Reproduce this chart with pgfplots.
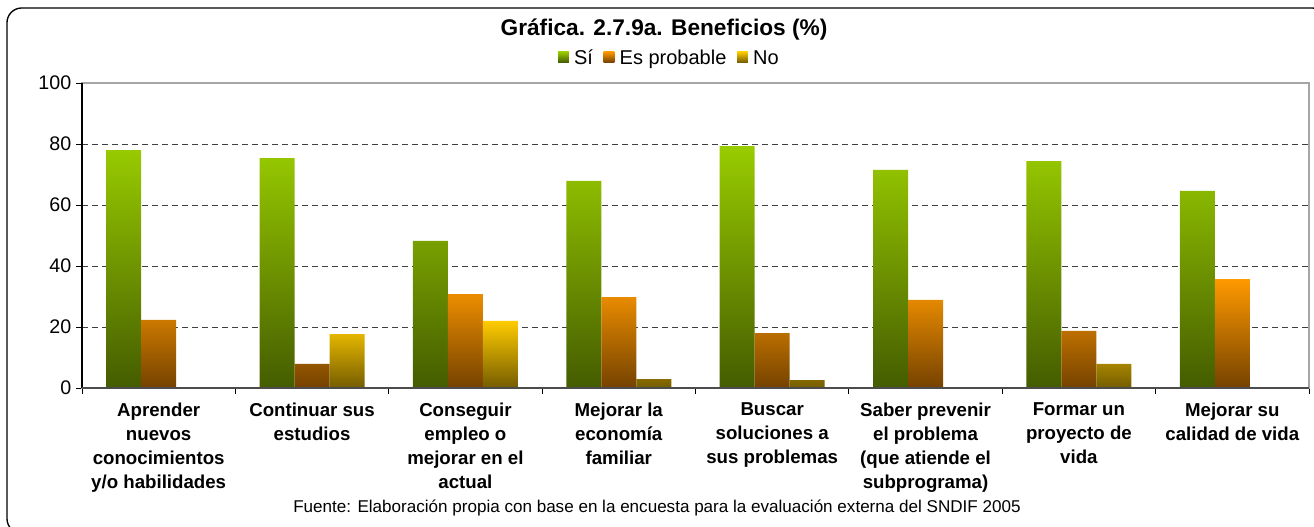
\documentclass[border=0pt]{standalone}
\usepackage{fontspec}
\setmainfont{Liberation Sans}
\usepackage{pgfplots}
\pgfplotsset{compat=1.18}
\definecolor{gT}{HTML}{99CC00}
\definecolor{gM}{HTML}{80AA00}
\definecolor{gB}{HTML}{445C00}
\definecolor{oT}{HTML}{FF9900}
\definecolor{oM}{HTML}{DD8200}
\definecolor{oB}{HTML}{744200}
\definecolor{yT}{HTML}{FFCC00}
\definecolor{yM}{HTML}{D2A800}
\definecolor{yB}{HTML}{745C00}
\begin{document}
\begin{tikzpicture}
\useasboundingbox (0,0) rectangle (985.5pt,-395.25pt);
\draw[line width=1pt, rounded corners=11pt] (5.25pt,-6pt) rectangle (995pt,-400pt);
\node[font=\bfseries\fontsize{17}{20}\selectfont] at (498pt,-22.5pt) {Gráfica. 2.7.9a. Beneficios (\%)};
\node[font=\fontsize{12.8}{15}\selectfont] at (492.75pt,-381pt) {Fuente: Elaboración propia con base en la encuesta para la evaluación externa del SNDIF 2005};
\begin{axis}[
  at={(61.5pt,-291pt)}, anchor=south west,
  scale only axis, width=920.25pt, height=228.75pt,
  ymin=0, ymax=100, ytick={0,20,...,100},
  xmin=-0.5, xmax=7.5,
  xtick={-0.5,0.5,...,7.5},
  xticklabels={{Aprender\\nuevos\\conocimientos\\y/o habilidades},
    {Continuar sus\\estudios},
    {Conseguir\\empleo o\\mejorar en el\\actual},
    {Mejorar la\\economía\\familiar},
    {Buscar\\soluciones a\\sus problemas},
    {Saber prevenir\\el problema\\(que atiende el\\subprograma)},
    {Formar un\\proyecto de\\vida},
    {Mejorar su\\calidad de vida},{}},
  xticklabel style={font=\bfseries\fontsize{14}{18}\selectfont, align=center, xshift=57.5pt, anchor=north, yshift=-3pt},
  yticklabel style={font=\fontsize{14.75}{16}\selectfont},
  /pgf/number format/assume math mode=true,
  tick pos=left, tick align=outside, major tick length=4.5pt,
  tick style={black, line width=0.6pt},
  ymajorgrids, grid style={dash pattern=on 4.5pt off 3pt, black!75, line width=0.6pt},
  axis line style={gray!70, line width=0.8pt},
  ybar=0pt, bar width=26.25pt,
  legend style={at={(0.479,1.085)}, anchor=center, draw=none, fill=none,
    legend columns=-1, font=\fontsize{15}{17}\selectfont,
    /tikz/every odd column/.append style={column sep=2pt},
    /tikz/every even column/.append style={column sep=6pt}},
  legend image code/.code={\path[#1, draw=none] (0pt,-4pt) rectangle (8pt,4pt);},
  after end axis/.code={
    \draw[black, line width=0.8pt] (rel axis cs:0,0) -- (rel axis cs:0,1);
    \draw[gray!60!black, line width=0.8pt] (rel axis cs:0,0) -- (rel axis cs:1,0);
  },
]
\addplot[draw=none, top color=gT, middle color=gM, bottom color=gB] coordinates {
(0,78.0) (1,75.4) (2,48.2) (3,67.9) (4,79.3) (5,71.5) (6,74.4) (7,64.6)};
\addplot[draw=none, top color=oT, middle color=oM, bottom color=oB] coordinates {
(0,22.3) (1,7.9) (2,30.8) (3,29.8) (4,18.0) (5,28.9) (6,18.7) (7,35.7)};
\addplot[draw=none, top color=yT, middle color=yM, bottom color=yB] coordinates {
(0,0) (1,17.7) (2,22.0) (3,2.9) (4,2.6) (5,0) (6,7.9) (7,0)};
\legend{\strut Sí, \strut Es probable, \strut No}
\end{axis}
\end{tikzpicture}
\end{document}
